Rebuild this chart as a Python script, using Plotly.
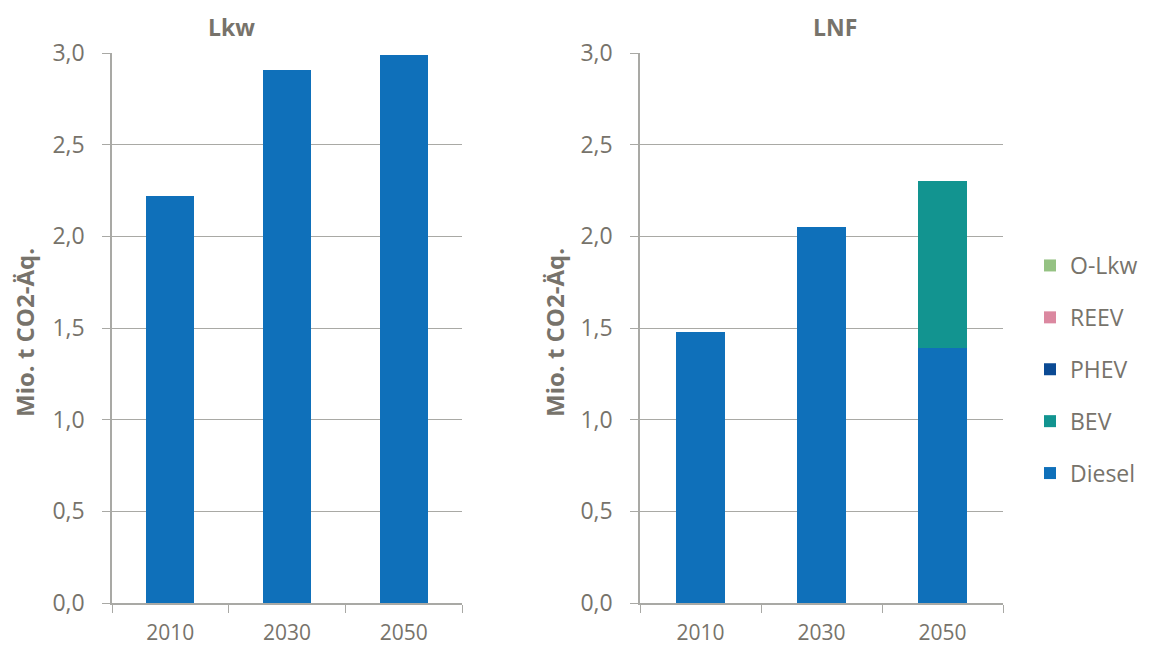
import plotly.graph_objects as go

years = ["2010", "2030", "2050"]
series_names = ["Diesel", "BEV", "PHEV", "REEV", "O-Lkw"]
colors = {"Diesel": "#0F70BA", "BEV": "#129490", "PHEV": "#0B4A94",
          "REEV": "#DB88A0", "O-Lkw": "#95C283"}

lkw = {"Diesel": [2.22, 2.91, 2.99], "BEV": [0, 0, 0], "PHEV": [0, 0, 0],
       "REEV": [0, 0, 0], "O-Lkw": [0, 0, 0]}
lnf = {"Diesel": [1.48, 2.05, 1.39], "BEV": [0, 0, 0.91], "PHEV": [0, 0, 0],
       "REEV": [0, 0, 0], "O-Lkw": [0, 0, 0]}

# page body has an 8px margin; size the figure to fit inside the window
OFF = 8
W, H = 1152 - 2 * OFF, 654 - 2 * OFF
TXT = "#77736B"
GRID = "#A9A9A5"
FONT = "Open Sans"


def px(x):
    return (x - OFF) / W


def py(y):
    return 1 - (y - OFF) / H


fig = go.Figure()
for name in series_names:
    fig.add_trace(go.Bar(x=years, y=lkw[name], name=name, marker_color=colors[name],
                         marker_line_width=0, width=0.41, xaxis="x", yaxis="y",
                         showlegend=False))
for i, name in enumerate(series_names):
    fig.add_trace(go.Bar(x=years, y=lnf[name], name=name, marker_color=colors[name],
                         marker_line_width=0, width=0.41, xaxis="x2", yaxis="y2",
                         showlegend=True, legendgroup=name,
                         legendrank=len(series_names) - i))

ydom = [py(603), py(53)]
axis_common_y = dict(range=[0, 3.0], dtick=0.5, tickformat=".1f", showgrid=True,
                     gridcolor=GRID, gridwidth=1.3, showline=True, linecolor=GRID,
                     linewidth=1.5, ticks="outside", ticklen=8, tickcolor=GRID,
                     ticklabelstandoff=13, automargin=False,
                     tickfont=dict(family=FONT, size=23, color=TXT), zeroline=False,
                     domain=ydom, fixedrange=True)
axis_common_x = dict(type="category", showline=True, linecolor=GRID, linewidth=1.5,
                     ticks="outside", tickson="boundaries", ticklen=8, tickcolor=GRID,
                     ticklabelstandoff=10, automargin=False,
                     tickfont=dict(family=FONT, size=21, color=TXT), showgrid=False)

fig.update_layout(
    width=W, height=H, barmode="stack", separators=",.",
    plot_bgcolor="white", paper_bgcolor="white",
    margin=dict(l=0, r=0, t=0, b=0, autoexpand=False),
    xaxis=dict(domain=[px(112), px(462)], anchor="y", **axis_common_x),
    yaxis=dict(anchor="x", **axis_common_y),
    xaxis2=dict(domain=[px(640), px(1003)], anchor="y2", **axis_common_x),
    yaxis2=dict(anchor="x2", **axis_common_y),
    legend=dict(x=px(1030), y=py(244), xanchor="left", yanchor="top",
                traceorder="grouped", tracegroupgap=19,
                font=dict(family=FONT, size=23, color=TXT),
                itemwidth=30, bgcolor="rgba(0,0,0,0)"),
    annotations=[
        dict(text="<b>Lkw</b>", x=px(231), y=py(27), xref="paper", yref="paper",
             xanchor="center", yanchor="middle", showarrow=False,
             font=dict(family=FONT, size=23, color=TXT)),
        dict(text="<b>LNF</b>", x=px(835), y=py(27), xref="paper", yref="paper",
             xanchor="center", yanchor="middle", showarrow=False,
             font=dict(family=FONT, size=23, color=TXT)),
        dict(text="<b>Mio. t CO2-Äq.</b>", x=px(24), y=py(333), xref="paper",
             yref="paper", xanchor="center", yanchor="middle", showarrow=False,
             textangle=-90, font=dict(family=FONT, size=24, color=TXT)),
        dict(text="<b>Mio. t CO2-Äq.</b>", x=px(554), y=py(333), xref="paper",
             yref="paper", xanchor="center", yanchor="middle", showarrow=False,
             textangle=-90, font=dict(family=FONT, size=24, color=TXT)),
    ],
)

fig.write_html("out.html")
